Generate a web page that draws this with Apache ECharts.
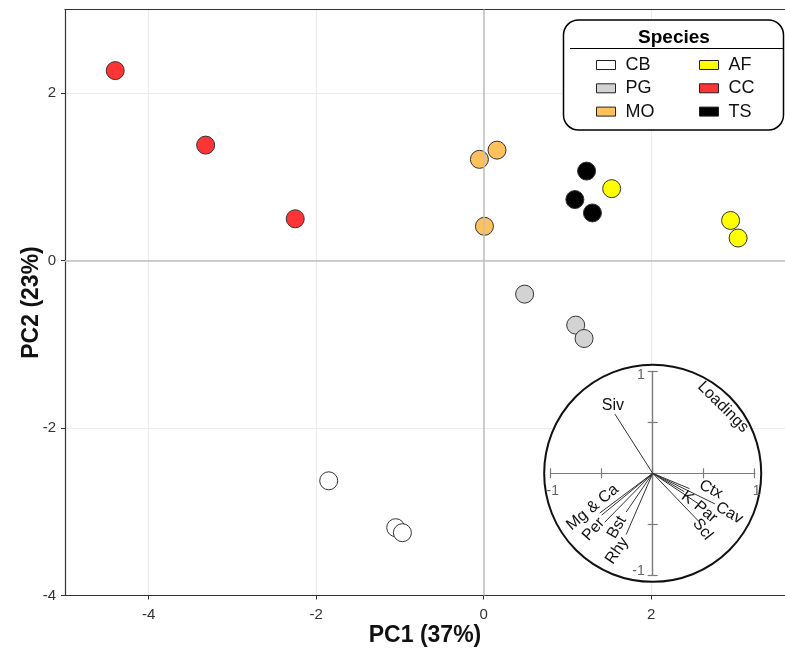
<!DOCTYPE html>
<html><head><meta charset="utf-8">
<script src="https://cdn.jsdelivr.net/npm/echarts@6/dist/echarts.min.js"></script>
<style>html,body{margin:0;padding:0;background:#fff}#c{width:785px;height:654px}</style>
</head><body><div id="c"></div>
<script>
// ---- data ----
const speciesNames = ['CB', 'PG', 'MO', 'AF', 'CC', 'TS'];
const CB = [[-1.85, -2.63], [-1.05, -3.19], [-0.97, -3.25]];
const PG = [[0.49, -0.40], [1.10, -0.77], [1.20, -0.93]];
const MO = [[-0.05, 1.21], [0.16, 1.32], [0.01, 0.41]];
const AF = [[1.53, 0.86], [2.95, 0.48], [3.04, 0.27]];
const CC = [[-4.40, 2.27], [-3.32, 1.38], [-2.25, 0.50]];
const TS = [[1.23, 1.07], [1.09, 0.73], [1.30, 0.57]];
const xTickValues = [-4, -2, 0, 2];
const yTickValues = [-4, -2, 0, 2];
const loadingNames = ['Siv', 'Mg', 'Ca', 'Per', 'Bst', 'Rhy', 'Ctx', 'K', 'Par', 'Cav', 'Scl'];
const loadingPC1 = [-0.37, -0.52, -0.50, -0.47, -0.26, -0.26, 0.36, 0.31, 0.45, 0.61, 0.45];
const loadingPC2 = [0.58, -0.39, -0.41, -0.48, -0.38, -0.60, -0.15, -0.18, -0.30, -0.30, -0.47];
const loadingTicks = [-1, 1];

// ---- styling / layout ----
const FONT = 'Liberation Sans, Arial, Helvetica, sans-serif';
const speciesColors = { CB: '#ffffff', PG: '#d3d3d3', MO: '#ffc15c', AF: '#ffff00', CC: '#ff3434', TS: '#000000' };
const speciesData = { CB, PG, MO, AF, CC, TS };
// label placement for loading vectors (in loading units) and rotation (deg, ccw)
const loadingLabels = [
  { text: 'Siv', at: [-0.39, 0.66], rot: 0 },
  { text: 'Mg & Ca', at: [-0.59, -0.335], rot: 40 },
  { text: 'Per', at: [-0.58, -0.55], rot: 48 },
  { text: 'Bst', at: [-0.35, -0.53], rot: 60 },
  { text: 'Rhy', at: [-0.35, -0.76], rot: 56 },
  { text: 'Ctx', at: [0.57, -0.16], rot: -27 },
  { text: 'K', at: [0.34, -0.24], rot: -35 },
  { text: 'Par', at: [0.52, -0.38], rot: -40 },
  { text: 'Cav', at: [0.75, -0.39], rot: -30 },
  { text: 'Scl', at: [0.49, -0.55], rot: -52 },
  { text: 'Loadings', at: [0.69, 0.65], rot: -45 }
];
const insetRect = { left: 550.7, top: 371.3, width: 204, height: 204 };
const circleRadius = 1.064;

const chart = echarts.init(document.getElementById('c'), null, { renderer: 'canvas' });

const mainSeries = speciesNames.map((n, i) => ({
  name: n, type: 'scatter', xAxisIndex: 0, yAxisIndex: 0, z: 2,
  symbol: 'circle', symbolSize: 18,
  itemStyle: { color: speciesColors[n], borderColor: '#333', borderWidth: 1, opacity: 1 },
  emphasis: { disabled: true },
  data: speciesData[n],
  markLine: i === 0 ? {
    silent: true, symbol: 'none', animation: false,
    label: { show: false },
    lineStyle: { color: '#bfbfbf', width: 1.5, type: 'solid' },
    data: [{ xAxis: 0 }, { yAxis: 0 }]
  } : undefined
}));

const insetAxisLine = { onZero: true, lineStyle: { color: '#7a7a7a', width: 1.2 } };
const insetTick = (inside) => ({ show: true, inside, length: 5, interval: 0, lineStyle: { color: '#7a7a7a', width: 1.2 } });

// tick labels of the inset loading axes (drawn at axis coordinates)
const insetTickLabels = [];
loadingTicks.forEach(v => {
  insetTickLabels.push({ value: [v, 0], dim: 'x' });
  insetTickLabels.push({ value: [0, v], dim: 'y' });
});

const legendBase = {
  orient: 'vertical', top: 51, itemGap: 5.3,
  itemWidth: 19, itemHeight: 9, icon: 'rect', selectedMode: false,
  itemStyle: { borderColor: '#222', borderWidth: 1 },
  textStyle: { fontSize: 18, color: '#111', fontFamily: FONT, lineHeight: 18, padding: [0, 0, 0, 5] }
};

const option = {
  animation: false,
  backgroundColor: '#fff',
  textStyle: { fontFamily: FONT },
  grid: [
    { left: 65, right: 0, top: 9.5, bottom: 58.5 },
    Object.assign({}, insetRect),
    Object.assign({}, insetRect)
  ],
  xAxis: [
    {
      gridIndex: 0, type: 'value', min: -5, max: 3.6, splitNumber: 5,
      name: 'PC1 (37%)', nameLocation: 'middle', nameGap: 29, nameMoveOverlap: false,
      nameTextStyle: { fontSize: 23, fontWeight: 'bold', color: '#111', fontFamily: FONT },
      axisLine: { onZero: false, lineStyle: { color: '#333', width: 1.2 } },
      axisTick: { length: 4, lineStyle: { color: '#333' } },
      axisLabel: { fontSize: 15, color: '#333', margin: 12, fontFamily: FONT, showMinLabel: false, showMaxLabel: false,
        formatter: v => (xTickValues.includes(v) ? String(v) : '') },
      splitLine: { show: true, lineStyle: { color: '#ebebeb', width: 1 } }
    },
    {
      gridIndex: 0, type: 'value', min: -5, max: 3.6, position: 'top',
      axisLine: { onZero: false, lineStyle: { color: '#333', width: 1.2 } },
      axisTick: { show: false }, axisLabel: { show: false }, splitLine: { show: false }
    },
    {
      gridIndex: 1, type: 'value', min: -1, max: 1, interval: 0.5, position: 'bottom', z: 5,
      axisLine: insetAxisLine, axisTick: insetTick(false), axisLabel: { show: false }, splitLine: { show: false }
    },
    {
      gridIndex: 2, type: 'value', min: -1, max: 1, interval: 0.5, position: 'bottom', z: 5,
      axisLine: insetAxisLine, axisTick: insetTick(true), axisLabel: { show: false }, splitLine: { show: false }
    }
  ],
  yAxis: [
    {
      gridIndex: 0, type: 'value', min: -4, max: 3, interval: 2,
      name: 'PC2 (23%)', nameLocation: 'middle', nameGap: 22, nameRotate: 90, nameMoveOverlap: false,
      nameTextStyle: { fontSize: 23, fontWeight: 'bold', color: '#111', fontFamily: FONT },
      axisLine: { onZero: false, lineStyle: { color: '#333', width: 1.2 } },
      axisTick: { length: 4, lineStyle: { color: '#333' } },
      axisLabel: { fontSize: 15, color: '#333', margin: 9, fontFamily: FONT, showMaxLabel: false,
        formatter: v => (yTickValues.includes(v) ? String(v) : '') },
      splitLine: { show: true, lineStyle: { color: '#ebebeb', width: 1 } }
    },
    {
      gridIndex: 1, type: 'value', min: -1, max: 1, interval: 0.5, position: 'left', z: 5,
      axisLine: insetAxisLine, axisTick: insetTick(false), axisLabel: { show: false }, splitLine: { show: false }
    },
    {
      gridIndex: 2, type: 'value', min: -1, max: 1, interval: 0.5, position: 'left', z: 5,
      axisLine: insetAxisLine, axisTick: insetTick(true), axisLabel: { show: false }, splitLine: { show: false }
    }
  ],
  legend: [
    Object.assign({}, legendBase, { data: ['CB', 'PG', 'MO'], left: 591 }),
    Object.assign({}, legendBase, { data: ['AF', 'CC', 'TS'], left: 694 })
  ],
  graphic: [
    { type: 'rect', z: 3, shape: { x: 563.5, y: 20, width: 220, height: 110, r: 15 },
      style: { fill: '#fff', stroke: '#000', lineWidth: 1.5 } },
    { type: 'text', z: 4, x: 674, y: 37.5,
      style: { text: 'Species', font: 'bold 19px ' + FONT, fill: '#000', align: 'center', verticalAlign: 'middle' } },
    { type: 'line', z: 4, shape: { x1: 570, y1: 48.5, x2: 783, y2: 48.5 }, style: { stroke: '#000', lineWidth: 1 } }
  ],
  series: mainSeries.concat([
    {
      type: 'custom', name: 'circle', xAxisIndex: 2, yAxisIndex: 1, z: 3, silent: true,
      data: [[0, 0]],
      renderItem: (params, api) => {
        const c = api.coord([0, 0]);
        const r = api.size([circleRadius, 0])[0];
        return { type: 'circle', shape: { cx: c[0], cy: c[1], r },
          style: { fill: '#fff', stroke: '#111', lineWidth: 2 } };
      }
    },
    {
      type: 'lines', name: 'vectors', coordinateSystem: 'cartesian2d', xAxisIndex: 2, yAxisIndex: 1, z: 6,
      silent: true, symbol: 'none',
      lineStyle: { color: '#333', width: 1, opacity: 1 },
      data: loadingNames.map((n, i) => ({ name: n, coords: [[0, 0], [loadingPC1[i], loadingPC2[i]]] }))
    },
    {
      type: 'custom', name: 'loadingLabels', xAxisIndex: 2, yAxisIndex: 1, z: 7, silent: true,
      data: loadingLabels.map(l => l.at),
      renderItem: (params, api) => {
        const l = loadingLabels[params.dataIndex];
        const p = api.coord([api.value(0), api.value(1)]);
        return { type: 'text', x: p[0], y: p[1], rotation: l.rot * Math.PI / 180,
          style: { text: l.text, font: '16px ' + FONT, fill: '#111', align: 'center', verticalAlign: 'middle' } };
      }
    },
    {
      type: 'custom', name: 'insetTickLabels', xAxisIndex: 2, yAxisIndex: 1, z: 7, silent: true,
      data: insetTickLabels.map(t => t.value),
      renderItem: (params, api) => {
        const t = insetTickLabels[params.dataIndex];
        const v0 = api.value(0), v1 = api.value(1);
        const p = api.coord([v0, v1]);
        const isX = t.dim === 'x';
        const val = isX ? v0 : v1;
        return { type: 'text',
          x: isX ? p[0] + 2 : p[0] - 8,
          y: isX ? p[1] + 18 : p[1] + (val > 0 ? 4 : -4),
          style: { text: String(val), font: '14px ' + FONT, fill: '#666',
            align: isX ? 'center' : 'right', verticalAlign: 'middle' } };
      }
    }
  ])
};
chart.setOption(option);
</script>
</body></html>
